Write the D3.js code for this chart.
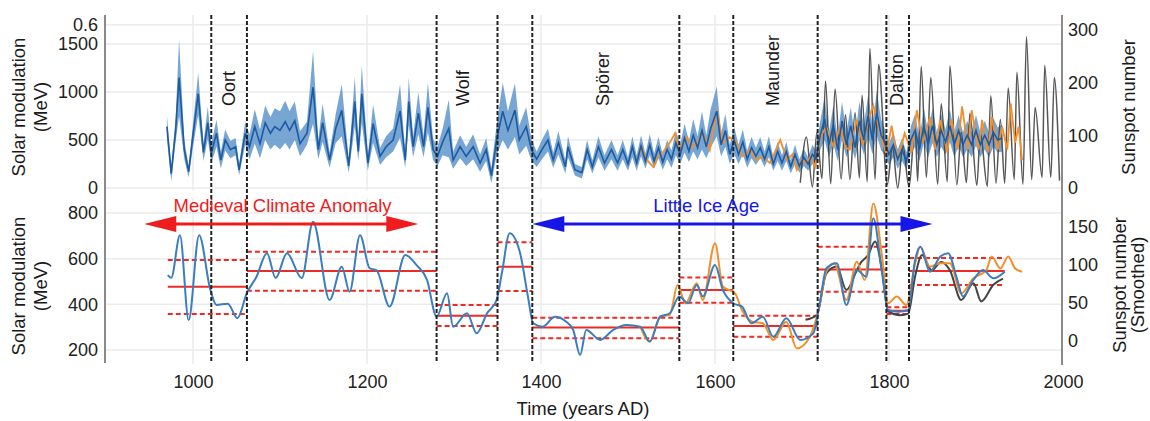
<!DOCTYPE html>
<html>
<head>
<meta charset="utf-8">
<script src="https://cdn.jsdelivr.net/npm/d3@7"></script>
<style>
  body { margin: 0; background: #fff; }
  svg text { font-family: "Liberation Sans", Arial, sans-serif; fill: #1a1a1a; }
</style>
</head>
<body>
<svg id="chart" width="1150" height="421"></svg>
<script>
// ---- data ----
// top panel: solar modulation reconstruction (MeV), mean and 1-sigma half width
var blueYears = [970,975,980,984,990,995,1000,1006,1012,1017,
  1021,1027,1032,1037,1043,1049,1053,1060,1065,1071,
  1077,1083,1089,1094,1100,1106,1111,1117,1123,1131,
  1138,1144,1149,1157,1164,1171,1179,1186,1190,1194,
  1201,1207,1215,1222,1230,1238,1244,1248,1253,1259,
  1265,1270,1276,1281,1287,1294,1299,1307,1314,1322,
  1330,1337,1343,1349,1356,1362,1370,1375,1383,1389,
  1395,1401,1408,1414,1420,1428,1431,1439,1447,1453,
  1459,1466,1473,1481,1488,1494,1500,1505,1510,1515,
  1520,1525,1530,1535,1540,1545,1550,1555,1560,1565,
  1570,1575,1580,1585,1590,1595,1602,1607,1612,1617,
  1622,1627,1632,1637,1642,1647,1652,1657,1662,1667,
  1672,1677,1682,1687,1692,1697,1702,1707,1712,1716,
  1721,1726,1731,1736,1741,1746,1751,1756,1761,1766,
  1771,1776,1781,1786,1791,1795,1800,1805,1810,1815,
  1820,1825,1830,1835,1840,1845,1850,1855,1860,1865,
  1870,1875,1880,1885,1890,1895,1900,1905,1910,1915,
  1920,1925,1930];
var blueMeV = [640,150,600,1150,400,170,550,980,370,680,
  360,570,290,500,400,430,190,570,430,640,
  460,680,570,640,600,690,600,700,460,570,
  1050,400,680,290,620,810,230,900,380,980,
  260,670,330,430,500,800,290,900,430,780,
  430,840,400,330,480,620,290,430,330,430,
  260,400,130,500,800,600,810,500,640,400,
  300,400,500,290,470,220,430,190,160,400,
  220,430,260,400,260,400,250,430,260,440,
  280,450,280,420,270,400,300,470,350,520,
  380,550,420,600,430,620,800,450,600,350,
  500,350,480,300,420,330,420,300,430,250,
  380,260,380,220,350,230,320,250,350,300,
  550,720,450,660,400,700,450,650,420,700,
  500,750,500,780,550,480,350,450,300,400,
  280,500,600,400,650,450,650,450,600,480,
  650,450,600,450,550,450,600,450,550,450,
  580,500,520];
var blueErr = [120,80,120,400,100,60,120,220,90,170,
  100,140,90,110,90,90,60,120,130,180,
  150,180,170,190,200,220,200,200,130,120,
  380,100,200,80,150,270,70,260,100,300,
  80,200,90,110,120,280,80,250,110,220,
  110,260,110,100,140,300,90,120,100,130,
  90,120,80,160,300,200,280,150,200,110,
  80,100,120,80,120,70,110,60,60,100,
  70,110,80,100,80,100,70,110,80,110,
  80,110,80,110,80,100,90,130,100,150,
  110,170,120,200,120,200,260,120,170,100,
  140,100,130,90,110,90,110,80,110,70,
  100,80,100,70,100,70,90,70,100,90,
  150,220,130,200,120,200,130,190,120,200,
  150,220,150,230,160,140,110,130,100,120,
  90,140,170,120,180,130,180,130,170,130,
  170,130,160,130,150,130,160,130,150,130,
  150,130,140];

// top panel: second reconstruction (MeV)
var orangeYears = [1511,1516,1521,1529,1535,1540,1548,1554,1560,1568,
  1574,1579,1586,1594,1602,1609,1617,1625,1632,1640,
  1648,1655,1663,1669,1675,1683,1689,1694,1700,1705,
  1710,1715,1721,1728,1736,1744,1750,1755,1763,1770,
  1776,1782,1792,1797,1803,1810,1818,1826,1832,1839,
  1847,1853,1859,1867,1872,1879,1884,1891,1895,1903,
  1907,1914,1918,1925,1930,1936,1940,1945,1949,1953];
var orangeMeV = [330,420,300,220,330,370,470,570,395,530,
  420,470,570,395,810,470,530,470,330,400,
  290,330,260,380,500,290,350,190,300,260,
  330,220,530,640,430,640,420,400,710,450,
  700,860,500,350,650,290,570,370,810,470,
  740,400,710,370,710,400,850,400,810,400,
  710,370,740,400,640,400,880,470,640,290];

// top panel: sunspot number (right axis)
var spotYears = [1698,1705,1712,1717,1723,1727,1733,1738,1745,1750,
  1755,1761,1766,1769,1775,1778,1784,1788,1798,1804,
  1810,1816,1823,1830,1833,1837,1843,1848,1856,1860,
  1867,1870,1878,1883,1889,1893,1901,1905,1913,1917,
  1923,1928,1933,1937,1944,1947,1954,1958,1964,1968,
  1976,1979,1986,1990,1996];
var spotNum = [10,97,2,105,18,203,8,188,17,139,
  16,143,19,176,12,265,16,235,7,78,
  0,80,2,117,13,231,20,210,7,160,
  12,232,6,106,10,142,5,105,3,175,
  9,130,9,190,16,220,7,287,16,153,
  20,233,20,210,14];

// bottom panel: smoothed series
var smBlueYears = [971,975,985,995,1007,1020,1027,1040,1051,1062,
  1073,1085,1095,1108,1125,1138,1157,1171,1180,1192,
  1203,1211,1226,1244,1257,1269,1280,1292,1299,1315,
  1326,1338,1349,1355,1364,1376,1385,1391,1402,1416,
  1429,1437,1445,1452,1468,1483,1498,1514,1525,1537,
  1548,1559,1569,1579,1586,1600,1609,1621,1631,1642,
  1655,1667,1682,1698,1713,1721,1728,1740,1751,1763,
  1774,1782,1792,1799,1811,1822,1830,1836,1847,1859,
  1868,1878,1885,1897,1908,1920,1933];
var smBlueMeV = [528,516,703,331,703,463,397,403,339,450,
  521,624,515,624,515,762,419,565,455,703,
  558,549,390,616,572,507,346,448,302,361,
  273,361,419,536,711,624,434,317,302,346,
  324,288,178,288,244,288,310,302,237,346,
  361,434,405,485,434,572,463,405,390,317,
  346,258,339,244,273,419,558,580,397,550,
  521,777,536,375,368,375,594,652,543,609,
  624,514,434,507,550,514,543];
var smOrangeYears = [1514,1525,1537,1548,1557,1566,1579,1586,1600,1609,
  1623,1631,1643,1655,1667,1682,1694,1709,1719,1728,
  1737,1751,1763,1772,1782,1792,1799,1809,1820,1830,
  1836,1847,1859,1870,1883,1897,1912,1918,1928,1937,
  1945,1953];
var smOrangeMeV = [302,237,346,354,485,405,492,419,667,478,
  448,375,324,317,244,324,207,258,375,543,
  580,419,587,507,842,609,405,434,397,580,
  652,565,580,580,448,514,550,609,557,609,
  557,543];
var smSpotYears = [1704,1717,1728,1740,1751,1763,1767,1776,1784,1792,
  1799,1813,1822,1830,1838,1849,1860,1870,1883,1897,
  1906,1920,1931];
var smSpotNum = [28,34,89,98,67,93,102,113,131,93,
  39,34,36,85,113,93,104,93,54,76,
  52,74,82];

// bottom panel: period mean and +/- 1 sigma (MeV)
var segStart = [971,1062,1280,1350,1390,1559,1621,1718,1797,1823];
var segEnd   = [1062,1280,1350,1390,1559,1621,1718,1797,1823,1933];
var segMean  = [477,546,350,565,298,463,305,553,372,546];
var segUpper = [594,630,397,672,341,518,350,652,387,603];
var segLower = [358,460,305,458,251,407,258,455,358,485];

// grand minima boundaries and names
var boundaryYears = [1021,1062,1280,1350,1390,1559,1621,1718,1797,1823];
var minimaNames = ["Oort","Wolf","Spörer","Maunder","Dalton"];
var minimaYears = [1041,1310,1471,1667,1809];

// climate periods
var periodNames = ["Medieval Climate Anomaly","Little Ice Age"];
var periodFrom = [944,1390];
var periodTo = [1259,1850];
var periodLabelYear = [1103,1590];

// ticks
var topLeftTicks = [0,500,1000,1500,1700];
var topLeftLabels = ["0","500","1000","1500","0.6"];
var topRightTicks = [0,100,200,300];
var botLeftTicks = [200,400,600,800];
var botRightTicks = [0,50,100,150];
var xTicks = [1000,1200,1400,1600,1800,2000];

// ---- layout ----
var svg = d3.select("#chart");

var x = d3.scaleLinear().domain([900,2000]).range([106,1063]);
var yTop = d3.scaleLinear().domain([0,1500]).range([188,44]);
var ySpot = d3.scaleLinear().domain([0,300]).range([188,30]);
var yBot = d3.scaleLinear().domain([200,800]).range([350,213]);
var ySpotS = d3.scaleLinear().domain([0,150]).range([341,227]);

var topY0 = 15, topY1 = 190, botY0 = 198, botY1 = 364;
var gridCol = "#ebebeb";
var fs = "18px", fsTitle = "18.5px";

// gridlines
var grid = svg.append("g");
grid.selectAll(".hgt").data(topLeftTicks).enter().append("line")
  .attr("x1", 106).attr("x2", 1062)
  .attr("y1", function(d) { return yTop(d); }).attr("y2", function(d) { return yTop(d); })
  .attr("stroke", gridCol).attr("stroke-width", 1.5);
grid.selectAll(".hgb").data(botLeftTicks).enter().append("line")
  .attr("x1", 106).attr("x2", 1062)
  .attr("y1", function(d) { return yBot(d); }).attr("y2", function(d) { return yBot(d); })
  .attr("stroke", gridCol).attr("stroke-width", 1.5);
grid.selectAll(".vgt").data(xTicks.slice(0,5)).enter().append("line")
  .attr("x1", function(d) { return x(d); }).attr("x2", function(d) { return x(d); })
  .attr("y1", topY0).attr("y2", topY1)
  .attr("stroke", gridCol).attr("stroke-width", 1.5);
grid.selectAll(".vgb").data(xTicks.slice(0,5)).enter().append("line")
  .attr("x1", function(d) { return x(d); }).attr("x2", function(d) { return x(d); })
  .attr("y1", botY0).attr("y2", botY1)
  .attr("stroke", gridCol).attr("stroke-width", 1.5);

// clip paths
var defs = svg.append("defs");
defs.append("clipPath").attr("id", "clipTop").append("rect")
  .attr("x", 106).attr("y", topY0).attr("width", 956).attr("height", topY1 - topY0);
defs.append("clipPath").attr("id", "clipBot").append("rect")
  .attr("x", 106).attr("y", botY0).attr("width", 956).attr("height", botY1 - botY0);

// ---- top panel ----
var topG = svg.append("g").attr("clip-path", "url(#clipTop)");
var blueData = blueYears.map(function(yr, i) { return {yr: yr, v: blueMeV[i], e: blueErr[i]}; });

topG.append("path").datum(blueData)
  .attr("fill", "#5f97cd").attr("opacity", 0.85)
  .attr("d", d3.area()
    .x(function(d) { return x(d.yr); })
    .y0(function(d) { return yTop(Math.max(d.v - d.e, 0)); })
    .y1(function(d) { return yTop(d.v + d.e); }));

topG.append("path").datum(spotYears.map(function(yr, i) { return [yr, spotNum[i]]; }))
  .attr("fill", "none").attr("stroke", "#3a3a3a").attr("stroke-width", 1.5).attr("opacity", 0.85)
  .attr("d", d3.line().curve(d3.curveMonotoneX)
    .x(function(d) { return x(d[0]); }).y(function(d) { return ySpot(d[1]); }));

topG.append("path").datum(orangeYears.map(function(yr, i) { return [yr, orangeMeV[i]]; }))
  .attr("fill", "none").attr("stroke", "#f28e2b").attr("stroke-width", 1.8)
  .attr("d", d3.line()
    .x(function(d) { return x(d[0]); }).y(function(d) { return yTop(d[1]); }));

topG.append("path").datum(blueData)
  .attr("fill", "none").attr("stroke", "#1d5aa0").attr("stroke-width", 1.6)
  .attr("d", d3.line()
    .x(function(d) { return x(d.yr); }).y(function(d) { return yTop(d.v); }));

// ---- bottom panel ----
var botG = svg.append("g").attr("clip-path", "url(#clipBot)");

var segs = segStart.map(function(s, i) {
  return {s: s, e: segEnd[i], m: segMean[i], u: segUpper[i], l: segLower[i]};
});
var red = "#ee2a24";
["u","l"].forEach(function(k) {
  botG.selectAll(".seg" + k).data(segs).enter().append("line")
    .attr("x1", function(d) { return x(d.s); }).attr("x2", function(d) { return x(d.e); })
    .attr("y1", function(d) { return yBot(d[k]); }).attr("y2", function(d) { return yBot(d[k]); })
    .attr("stroke", red).attr("stroke-width", 2).attr("stroke-dasharray", "5,3");
});
botG.selectAll(".segm").data(segs).enter().append("line")
  .attr("x1", function(d) { return x(d.s); }).attr("x2", function(d) { return x(d.e); })
  .attr("y1", function(d) { return yBot(d.m); }).attr("y2", function(d) { return yBot(d.m); })
  .attr("stroke", red).attr("stroke-width", 2);

var smooth = d3.curveMonotoneX;
botG.append("path").datum(smSpotYears.map(function(yr, i) { return [yr, smSpotNum[i]]; }))
  .attr("fill", "none").attr("stroke", "#444").attr("stroke-width", 2)
  .attr("d", d3.line().curve(smooth)
    .x(function(d) { return x(d[0]); }).y(function(d) { return ySpotS(d[1]); }));
botG.append("path").datum(smOrangeYears.map(function(yr, i) { return [yr, smOrangeMeV[i]]; }))
  .attr("fill", "none").attr("stroke", "#f28e2b").attr("stroke-width", 2)
  .attr("d", d3.line().curve(smooth)
    .x(function(d) { return x(d[0]); }).y(function(d) { return yBot(d[1]); }));
botG.append("path").datum(smBlueYears.map(function(yr, i) { return [yr, smBlueMeV[i]]; }))
  .attr("fill", "none").attr("stroke", "#3b7dbd").attr("stroke-width", 2)
  .attr("d", d3.line().curve(smooth)
    .x(function(d) { return x(d[0]); }).y(function(d) { return yBot(d[1]); }));

// ---- boundaries ----
svg.selectAll(".bnd").data(boundaryYears).enter().append("line")
  .attr("x1", function(d) { return x(d); }).attr("x2", function(d) { return x(d); })
  .attr("y1", topY0).attr("y2", botY1 - 1)
  .attr("stroke", "#222").attr("stroke-width", 2).attr("stroke-dasharray", "4,2");

svg.selectAll(".mname").data(minimaNames).enter().append("text")
  .attr("transform", function(d, i) { return "translate(" + (x(minimaYears[i]) + 6) + ",106) rotate(-90)"; })
  .style("font-size", fs)
  .text(function(d) { return d; });

// ---- climate period arrows ----
var periodCols = ["#ee1c1c", "#1616e6"];
periodNames.forEach(function(name, i) {
  var g = svg.append("g");
  var x0 = x(periodFrom[i]), x1 = x(periodTo[i]), yA = 224, hl = 32, hw = 8;
  g.append("line").attr("x1", x0 + 10).attr("x2", x1 - 10).attr("y1", yA).attr("y2", yA)
    .attr("stroke", periodCols[i]).attr("stroke-width", 3);
  g.append("path").attr("fill", periodCols[i])
    .attr("d", "M" + x0 + "," + yA + "L" + (x0 + hl) + "," + (yA - hw) + "L" + (x0 + hl) + "," + (yA + hw) + "Z");
  g.append("path").attr("fill", periodCols[i])
    .attr("d", "M" + x1 + "," + yA + "L" + (x1 - hl) + "," + (yA - hw) + "L" + (x1 - hl) + "," + (yA + hw) + "Z");
  g.append("text").attr("x", x(periodLabelYear[i])).attr("y", 212)
    .attr("text-anchor", "middle").style("font-size", fsTitle).style("fill", periodCols[i])
    .text(name);
});

// ---- axes ----
function styleAxis(g) {
  g.select(".domain").remove();
  g.selectAll("text").style("font-size", fs).style("fill", "#222")
    .style("font-family", "'Liberation Sans', Arial, sans-serif");
}
svg.append("g").attr("transform", "translate(102,0)")
  .call(d3.axisLeft(yTop).tickValues(topLeftTicks).tickSize(0).tickPadding(4)
    .tickFormat(function(d, i) { return topLeftLabels[i]; }))
  .call(styleAxis);
svg.append("g").attr("transform", "translate(102,0)")
  .call(d3.axisLeft(yBot).tickValues(botLeftTicks).tickSize(0).tickPadding(4))
  .call(styleAxis);
svg.append("g").attr("transform", "translate(1065,0)")
  .call(d3.axisRight(ySpot).tickValues(topRightTicks).tickSize(0).tickPadding(3))
  .call(styleAxis);
svg.append("g").attr("transform", "translate(1065,0)")
  .call(d3.axisRight(ySpotS).tickValues(botRightTicks).tickSize(0).tickPadding(3))
  .call(styleAxis);
svg.append("g").attr("transform", "translate(0,372)")
  .call(d3.axisBottom(x).tickValues(xTicks).tickSize(0).tickPadding(3).tickFormat(d3.format("d")))
  .call(styleAxis);

// axis lines
svg.append("line").attr("x1", 105).attr("x2", 105).attr("y1", 15).attr("y2", 363)
  .attr("stroke", "#8a8a8a").attr("stroke-width", 2);
svg.append("line").attr("x1", 1062).attr("x2", 1062).attr("y1", 15).attr("y2", 365)
  .attr("stroke", "#8a8a8a").attr("stroke-width", 2);

// axis titles
function vtitle(lines, cx, cy, gap) {
  var t = svg.append("text").attr("transform", "translate(" + cx + "," + cy + ") rotate(-90)")
    .attr("text-anchor", "middle").style("font-size", fsTitle);
  lines.forEach(function(s, i) {
    t.append("tspan").attr("x", 0).attr("dy", i === 0 ? 0 : gap).text(s);
  });
}
vtitle(["Solar modulation", "(MeV)"], 25, 107, 22);
vtitle(["Solar modulation", "(MeV)"], 25, 286, 22);
vtitle(["Sunspot number"], 1135, 107, 0);
vtitle(["Sunspot number", "(Smoothed)"], 1126, 285, 18);

svg.append("text").attr("x", 583).attr("y", 415).attr("text-anchor", "middle")
  .style("font-size", fsTitle).text("Time (years AD)");
</script>
</body>
</html>
